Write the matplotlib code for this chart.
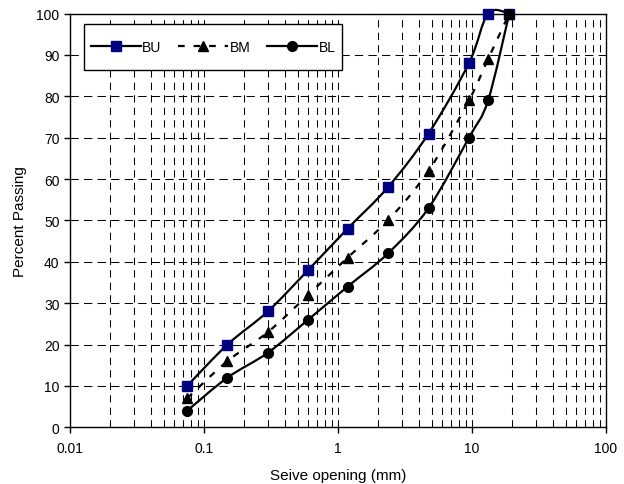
import numpy as np
import matplotlib
matplotlib.use('Agg')
import matplotlib.pyplot as plt
from matplotlib.path import Path
from matplotlib.patches import PathPatch
from matplotlib.lines import Line2D

plt.rcParams['font.family'] = ['Liberation Sans', 'DejaVu Sans']

# sieve openings (mm) and percent passing
sieve_bu = [0.075, 0.15, 0.3, 0.6, 1.18, 2.36, 4.75, 9.5, 13.2, 19]
bu = [10, 20, 28, 38, 48, 58, 71, 88, 100, 100]
sieve = [0.075, 0.15, 0.3, 0.6, 1.18, 2.36, 4.75, 9.5, 13.2, 19]
bm = [7, 16, 23, 32, 41, 50, 62, 79, 89, 100]
bl = [4, 12, 18, 26, 34, 42, 53, 70, 79, 100]


def smooth_path(xs, ys):
    # smoothed line (like Excel) built as bezier segments in log-x space
    lx = np.log10(xs)
    ys = np.asarray(ys, float)
    n = len(lx)
    verts = [(xs[0], ys[0])]
    codes = [Path.MOVETO]
    for i in range(n - 1):
        i0 = max(i - 1, 0)
        i3 = min(i + 2, n - 1)
        c1 = (lx[i] + (lx[i + 1] - lx[i0]) / 6, ys[i] + (ys[i + 1] - ys[i0]) / 6)
        c2 = (lx[i + 1] - (lx[i3] - lx[i]) / 6, ys[i + 1] - (ys[i3] - ys[i]) / 6)
        verts += [(10 ** c1[0], c1[1]), (10 ** c2[0], c2[1]), (xs[i + 1], ys[i + 1])]
        codes += [Path.CURVE4] * 3
    return Path(verts, codes)


fig = plt.figure(figsize=(6.24, 4.85), dpi=100)
ax = fig.add_axes([0.112, 0.117, 0.859, 0.853])
ax.set_xscale('log')
ax.set_xlim(0.01, 100)
ax.set_ylim(0, 100)

# grid
ax.grid(True, which='major', axis='y', color='black', linestyle=(0, (8, 5)), linewidth=0.75)
ax.grid(True, which='both', axis='x', color='black', linestyle=(0, (7, 5)), linewidth=0.75)

lw = 1.6
series = [
    (sieve_bu, bu, 's', '#000080', '-', 'BU'),
    (sieve, bm, '^', 'black', (0, (3, 4)), 'BM'),
    (sieve, bl, 'o', 'black', '-', 'BL'),
]
handles = []
for xs, ys, mk, mc, ls, lab in series:
    patch = PathPatch(smooth_path(xs, ys), facecolor='none', edgecolor='black',
                      linewidth=lw, linestyle=ls, clip_on=False, zorder=3)
    ax.add_patch(patch)
    ax.plot(xs, ys, linestyle='none', marker=mk, markersize=7, color=mc,
            markeredgecolor=mc, clip_on=False, zorder=4)
    handles.append(Line2D([], [], color='black', linewidth=lw, linestyle=ls,
                          marker=mk, markersize=7, markerfacecolor=mc,
                          markeredgecolor=mc, label=lab))

ax.set_yticks(range(0, 101, 10))
ax.set_xticks([0.01, 0.1, 1, 10, 100])
ax.set_xticklabels(['0.01', '0.1', '1', '10', '100'])
ax.tick_params(axis='both', which='major', direction='out', length=4, width=1,
               labelsize=10, colors='black')
ax.tick_params(axis='x', which='major', pad=6)
ax.tick_params(axis='x', which='minor', length=0)
for s in ax.spines.values():
    s.set_linewidth(1)
    s.set_color('black')

ax.set_xlabel('Seive opening (mm)', fontsize=11, labelpad=9)
ax.set_ylabel('Percent Passing', fontsize=11, labelpad=7)

leg = ax.legend(handles=handles, loc='upper left', bbox_to_anchor=(0.034, 0.943),
                borderaxespad=0, ncol=3, fontsize=10, handlelength=3.6,
                handletextpad=0.1, columnspacing=1.2,
                fancybox=False, edgecolor='black', framealpha=1, borderpad=0.2)
# frame taller than wide padding, like the original legend box
leg.legendPatch.set_boxstyle('square', pad=0.3)
leg.legendPatch.set_mutation_aspect(3.2)
leg.get_frame().set_linewidth(1)

fig.savefig('out.png', dpi=100)
